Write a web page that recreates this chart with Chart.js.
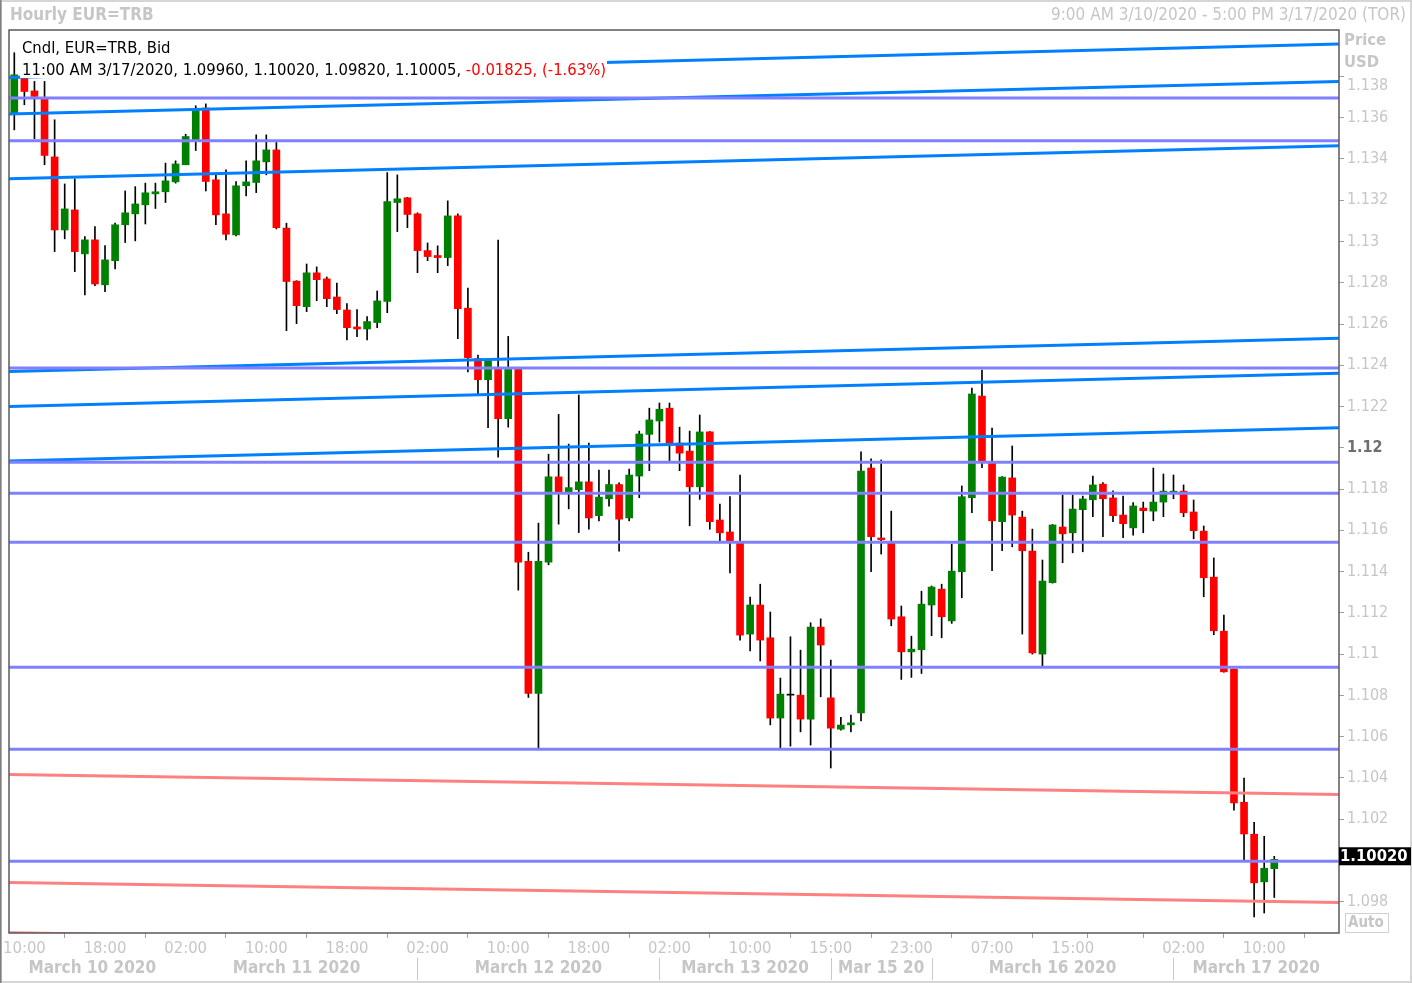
<!DOCTYPE html>
<html>
<head>
<meta charset="utf-8">
<title>Hourly EUR=TRB</title>
<script src="https://cdn.jsdelivr.net/npm/chart.js@4.4.1/dist/chart.umd.min.js"></script>
<style>
  html, body { margin: 0; padding: 0; background: #fff; }
  #wrap { width: 1412px; height: 983px; }
</style>
</head>
<body>
<div id="wrap"><canvas id="chart" width="1412" height="983"></canvas></div>
<script>
// hourly candles, 9:00 AM 3/10/2020 .. 11:00 AM 3/17/2020 (one per hour, weekend skipped)
const opens = [
  1.13622, 1.13794, 1.13730, 1.13690, 1.13410, 1.13056, 1.13153, 1.12940, 1.13008, 1.12790,
  1.12907, 1.13081, 1.13134, 1.13178, 1.13231, 1.13241, 1.13289, 1.13372, 1.13493, 1.13647,
  1.13299, 1.13134, 1.13032, 1.13270, 1.13286, 1.13386, 1.13444, 1.13065, 1.12808, 1.12684,
  1.12848, 1.12819, 1.12731, 1.12668, 1.12586, 1.12576, 1.12607, 1.12709, 1.13189, 1.13212,
  1.13134, 1.12956, 1.12932, 1.12922, 1.13124, 1.12677, 1.12433, 1.12330, 1.12384, 1.12141,
  1.12384, 1.11450, 1.10810, 1.11446, 1.11859, 1.11786, 1.11797, 1.11835, 1.11671, 1.11753,
  1.11822, 1.11660, 1.11863, 1.12065, 1.12130, 1.12192, 1.12023, 1.11984, 1.11811, 1.12077,
  1.11650, 1.11592, 1.11537, 1.11097, 1.11238, 1.11079, 1.10690, 1.10801, 1.10801, 1.10685,
  1.11131, 1.10788, 1.10636, 1.10657, 1.10715, 1.11902, 1.11563, 1.11537, 1.11181, 1.11011,
  1.11021, 1.11238, 1.11315, 1.11161, 1.11399, 1.11758, 1.12251, 1.11926, 1.11642, 1.11854,
  1.11664, 1.11499, 1.11000, 1.11346, 1.11616, 1.11588, 1.11700, 1.11748, 1.11824, 1.11757,
  1.11674, 1.11612, 1.11708, 1.11693, 1.11737, 1.11782, 1.11790, 1.11689, 1.11596, 1.11373,
  1.11111, 1.10927, 1.10282, 1.10127, 1.09896, 1.09960
];
const highs = [
  1.13915, 1.13803, 1.13776, 1.13776, 1.13590, 1.13279, 1.13304, 1.13024, 1.13072, 1.12980,
  1.13089, 1.13245, 1.13266, 1.13283, 1.13283, 1.13380, 1.13391, 1.13520, 1.13658, 1.13667,
  1.13331, 1.13347, 1.13291, 1.13391, 1.13517, 1.13517, 1.13480, 1.13089, 1.12810, 1.12891,
  1.12877, 1.12828, 1.12799, 1.12699, 1.12670, 1.12636, 1.12760, 1.13334, 1.13323, 1.13214,
  1.13139, 1.12993, 1.12979, 1.13197, 1.13134, 1.12774, 1.12450, 1.12425, 1.13007, 1.12540,
  1.12386, 1.11494, 1.11635, 1.11969, 1.12162, 1.12018, 1.12256, 1.12023, 1.11892, 1.11892,
  1.11830, 1.11897, 1.12081, 1.12192, 1.12217, 1.12217, 1.12100, 1.12081, 1.12159, 1.12079,
  1.11727, 1.11763, 1.11868, 1.11276, 1.11339, 1.11204, 1.10884, 1.11084, 1.11019, 1.11152,
  1.11171, 1.10971, 1.10694, 1.10704, 1.11981, 1.11946, 1.11941, 1.11693, 1.11233, 1.11087,
  1.11305, 1.11330, 1.11339, 1.11533, 1.11815, 1.12289, 1.12377, 1.12096, 1.11860, 1.12009,
  1.11693, 1.11606, 1.11456, 1.11628, 1.11771, 1.11771, 1.11766, 1.11863, 1.11831, 1.11792,
  1.11766, 1.11734, 1.11737, 1.11902, 1.11873, 1.11868, 1.11820, 1.11747, 1.11621, 1.11466,
  1.11189, 1.10929, 1.10399, 1.10185, 1.10117, 1.10020
];
const lows = [
  1.13541, 1.13663, 1.13498, 1.13372, 1.12951, 1.13013, 1.12854, 1.12741, 1.12786, 1.12757,
  1.12867, 1.12995, 1.13003, 1.13085, 1.13160, 1.13189, 1.13283, 1.13372, 1.13441, 1.13245,
  1.13081, 1.13008, 1.13027, 1.13221, 1.13237, 1.13323, 1.13061, 1.12568, 1.12602, 1.12660,
  1.12713, 1.12684, 1.12650, 1.12523, 1.12539, 1.12523, 1.12582, 1.12655, 1.13048, 1.13067,
  1.12849, 1.12907, 1.12849, 1.12883, 1.12529, 1.12368, 1.12261, 1.12097, 1.11954, 1.12100,
  1.11310, 1.10790, 1.10544, 1.11433, 1.11630, 1.11704, 1.11589, 1.11605, 1.11646, 1.11717,
  1.11499, 1.11646, 1.11758, 1.11889, 1.12028, 1.11936, 1.11889, 1.11622, 1.11750, 1.11605,
  1.11549, 1.11394, 1.11068, 1.11016, 1.10967, 1.10657, 1.10543, 1.10554, 1.10623, 1.10559,
  1.10793, 1.10448, 1.10631, 1.10623, 1.10676, 1.11399, 1.11485, 1.11137, 1.10877, 1.10887,
  1.10906, 1.11089, 1.11079, 1.11149, 1.11273, 1.11685, 1.11904, 1.11404, 1.11501, 1.11520,
  1.11097, 1.11000, 1.10942, 1.11344, 1.11443, 1.11491, 1.11496, 1.11666, 1.11569, 1.11642,
  1.11564, 1.11577, 1.11588, 1.11646, 1.11666, 1.11753, 1.11666, 1.11559, 1.11278, 1.11094,
  1.10912, 1.10243, 1.10001, 1.09726, 1.09745, 1.09820
];
const closes = [
  1.13808, 1.13727, 1.13703, 1.13417, 1.13056, 1.13158, 1.12951, 1.13008, 1.12794, 1.12911,
  1.13081, 1.13139, 1.13182, 1.13236, 1.13241, 1.13294, 1.13376, 1.13509, 1.13638, 1.13291,
  1.13129, 1.13035, 1.13270, 1.13289, 1.13391, 1.13444, 1.13067, 1.12806, 1.12689, 1.12848,
  1.12815, 1.12723, 1.12670, 1.12582, 1.12576, 1.12612, 1.12712, 1.13194, 1.13207, 1.13131,
  1.12956, 1.12927, 1.12922, 1.13124, 1.12675, 1.12437, 1.12330, 1.12420, 1.12141, 1.12384,
  1.11446, 1.10810, 1.11450, 1.11859, 1.11786, 1.11807, 1.11835, 1.11660, 1.11761, 1.11822,
  1.11654, 1.11868, 1.12067, 1.12135, 1.12187, 1.12023, 1.11974, 1.11811, 1.12077, 1.11642,
  1.11588, 1.11545, 1.11092, 1.11238, 1.11068, 1.10690, 1.10806, 1.10801, 1.10685, 1.11131,
  1.11044, 1.10641, 1.10656, 1.10667, 1.11887, 1.11569, 1.11554, 1.11170, 1.11011, 1.11024,
  1.11242, 1.11325, 1.11181, 1.11402, 1.11763, 1.12261, 1.11933, 1.11646, 1.11858, 1.11674,
  1.11501, 1.11006, 1.11354, 1.11626, 1.11583, 1.11703, 1.11752, 1.11820, 1.11753, 1.11671,
  1.11632, 1.11718, 1.11695, 1.11737, 1.11790, 1.11790, 1.11685, 1.11598, 1.11370, 1.11113,
  1.10914, 1.10279, 1.10128, 1.09891, 1.09962, 1.10005
];

// drawing tools on the chart: trend lines (start / end price) and flat levels
const blueStart = [1.13795, 1.13618, 1.13304, 1.12370, 1.12200, 1.11936];
const blueEnd   = [1.13957, 1.13776, 1.13464, 1.12531, 1.12361, 1.12097];
const redStart  = [1.10417, 1.09893, 1.09649];
const redEnd    = [1.10320, 1.09796, 1.09552];
const levels    = [1.13695, 1.13488, 1.12387, 1.11930, 1.11780, 1.11542, 1.10936, 1.10539, 1.09996];
const lastPrice = 1.10020;

// axes
const yTickValues = [1.098, 1.100, 1.102, 1.104, 1.106, 1.108, 1.110, 1.112, 1.114, 1.116, 1.118,
                     1.120, 1.122, 1.124, 1.126, 1.128, 1.130, 1.132, 1.134, 1.136, 1.138];
const yTickLabels = ['1.098', '', '1.102', '1.104', '1.106', '1.108', '1.11', '1.112', '1.114', '1.116', '1.118',
                     '1.12', '1.122', '1.124', '1.126', '1.128', '1.13', '1.132', '1.134', '1.136', '1.138'];
const xTickIndex  = [1, 9, 17, 25, 33, 41, 49, 57, 65, 73, 81, 89, 97, 105, 108, 116, 124];
const xTickLabels = ['10:00', '18:00', '02:00', '10:00', '18:00', '02:00', '10:00', '18:00', '02:00',
                     '10:00', '15:00', '23:00', '07:00', '15:00', '', '02:00', '10:00'];
const dayStarts = [16, 40, 64, 81, 91, 115];
const dayNames  = ['March 10 2020', 'March 11 2020', 'March 12 2020', 'March 13 2020',
                   'Mar 15 20', 'March 16 2020', 'March 17 2020'];

const X_MIN = -0.526, X_MAX = 131.42;
const FONT = "'DejaVu Sans Condensed', 'DejaVu Sans', sans-serif";
const GREY = '#c6c6c6';

Chart.defaults.font.family = FONT;

const idx = opens.map((v, i) => i);
const bodyColors = idx.map(i => closes[i] > opens[i] ? '#008000' : (closes[i] < opens[i] ? '#ff0000' : '#000000'));

function trend(a, b, color, width) {
  return {
    type: 'line',
    data: [{ x: X_MIN, y: a }, { x: X_MAX, y: b }],
    borderColor: color,
    borderWidth: width,
    pointRadius: 0,
    tension: 0,
    clip: 0,
    order: 1
  };
}

const datasets = [
  {
    label: 'Wicks',
    data: idx.map(i => ({ x: i, y: [lows[i], highs[i]] })),
    backgroundColor: '#000000',
    barThickness: 1,
    grouped: false,
    order: 4
  },
  {
    label: 'Bodies',
    data: idx.map(i => ({ x: i, y: [opens[i], closes[i]] })),
    backgroundColor: bodyColors,
    barThickness: 7,
    minBarLength: 1,
    grouped: false,
    order: 3
  }
];
levels.forEach(v => datasets.push(trend(v, v, '#8080ff', 3)));
redStart.forEach((v, i) => datasets.push(trend(v, redEnd[i], '#ff8080', 3)));
blueStart.forEach((v, i) => datasets.push(trend(v, blueEnd[i], '#0080ff', 3)));

const decor = {
  id: 'decor',
  beforeDraw(chart) {
    const ctx = chart.ctx;
    ctx.save();
    ctx.fillStyle = '#ffffff';
    ctx.fillRect(0, 0, chart.width, chart.height);
    ctx.restore();
  },
  afterDatasetsDraw(chart) {
    // the legend sits on a white panel that hides the drawing tools under it
    const ctx = chart.ctx;
    ctx.save();
    ctx.fillStyle = '#ffffff';
    ctx.fillRect(20, 37, 156, 23);
    ctx.fillRect(20, 60, 587, 18);
    ctx.restore();
  },
  afterDraw(chart) {
    const ctx = chart.ctx;
    const a = chart.chartArea;
    const xs = chart.scales.x;
    const ys = chart.scales.y;
    ctx.save();

    // frame
    ctx.strokeStyle = '#d6d6d6';
    ctx.lineWidth = 2;
    ctx.strokeRect(1, 1, chart.width - 2, chart.height - 2);
    ctx.fillStyle = '#808080';
    ctx.fillRect(0, 0, 1.5, chart.height);
    ctx.strokeStyle = '#5a5a5a';
    ctx.lineWidth = 1.5;
    ctx.strokeRect(a.left, a.top, a.right - a.left, a.bottom - a.top);

    // header
    ctx.textBaseline = 'middle';
    ctx.fillStyle = GREY;
    ctx.font = 'bold 17px ' + FONT;
    ctx.textAlign = 'left';
    ctx.fillText('Hourly EUR=TRB', 10, 16);
    ctx.font = '17px ' + FONT;
    ctx.textAlign = 'right';
    ctx.fillText('9:00 AM 3/10/2020 - 5:00 PM 3/17/2020 (TOR)', 1406, 16);

    // legend
    ctx.textAlign = 'left';
    ctx.fillStyle = '#000000';
    ctx.font = '16.5px ' + FONT;
    ctx.fillText('Cndl, EUR=TRB, Bid', 22, 49);
    const head = '11:00 AM 3/17/2020, ' + [opens[125], highs[125], lows[125], closes[125]].map(v => v.toFixed(5)).join(', ') + ', ';
    ctx.fillText(head, 22, 71);
    const w = ctx.measureText(head).width;
    ctx.fillStyle = '#ff0000';
    ctx.fillText('-0.01825, (-1.63%)', 22 + w, 71);

    // price axis captions
    ctx.fillStyle = GREY;
    ctx.font = 'bold 16.5px ' + FONT;
    ctx.fillText('Price', 1344, 41);
    ctx.fillText('USD', 1344, 63);
    ctx.strokeStyle = '#d0d0d0';
    ctx.lineWidth = 1;
    ctx.strokeRect(1345.5, 913.5, 43, 19);
    ctx.font = 'bold 15px ' + FONT;
    ctx.fillText('Auto', 1348, 923);

    // last price box
    const py = ys.getPixelForValue(lastPrice);
    ctx.fillStyle = '#000000';
    ctx.fillRect(a.right, py - 9, 72, 18);
    ctx.fillStyle = '#ffffff';
    ctx.font = 'bold 16.5px ' + FONT;
    ctx.fillText(lastPrice.toFixed(5), a.right + 1, py + 0.5);

    // date row
    ctx.strokeStyle = '#c8c8c8';
    ctx.lineWidth = 1;
    dayStarts.forEach((d, i) => {
      if (i === 0) return;
      const x = Math.round(xs.getPixelForValue(d)) + 0.5;
      ctx.beginPath();
      ctx.moveTo(x, 958);
      ctx.lineTo(x, 980);
      ctx.stroke();
    });
    const bounds = [X_MIN].concat(dayStarts, [X_MAX]);
    ctx.fillStyle = GREY;
    ctx.font = 'bold 17px ' + FONT;
    ctx.textAlign = 'center';
    dayNames.forEach((name, i) => {
      const x = xs.getPixelForValue((bounds[i] + bounds[i + 1]) / 2);
      ctx.fillText(name, x, 969);
    });
    ctx.restore();
  }
};

new Chart(document.getElementById('chart'), {
  type: 'bar',
  data: { datasets: datasets },
  options: {
    responsive: false,
    animation: false,
    devicePixelRatio: 1,
    layout: { padding: { top: 30, left: 9, right: 0, bottom: 0 } },
    plugins: { legend: { display: false }, tooltip: { enabled: false } },
    scales: {
      x: {
        type: 'linear',
        min: X_MIN,
        max: X_MAX,
        offset: false,
        afterBuildTicks: (scale) => { scale.ticks = xTickIndex.map(v => ({ value: v })); },
        afterFit: (scale) => { scale.height = 50; scale.paddingLeft = 0; scale.paddingRight = 0; },
        grid: { display: true, drawOnChartArea: false, drawTicks: true, tickLength: 5, color: '#a0a0a0' },
        border: { display: false },
        ticks: {
          autoSkip: false,
          maxRotation: 0,
          minRotation: 0,
          padding: 1,
          color: GREY,
          font: { size: 16.5, family: FONT },
          callback: (v, i) => xTickLabels[i]
        }
      },
      y: {
        type: 'linear',
        position: 'right',
        min: 1.096481,
        max: 1.140252,
        afterBuildTicks: (scale) => { scale.ticks = yTickValues.map(v => ({ value: v })); },
        afterFit: (scale) => { scale.width = 73; scale.paddingTop = 0; scale.paddingBottom = 0; },
        grid: { display: true, drawOnChartArea: false, drawTicks: true, tickLength: 5, color: '#a0a0a0' },
        border: { display: false },
        ticks: {
          autoSkip: false,
          padding: 3,
          color: (c) => (c.tick && Math.abs(c.tick.value - 1.12) < 1e-6) ? '#6e6e6e' : GREY,
          font: (c) => ({ size: 16, family: FONT,
            weight: (c.tick && Math.abs(c.tick.value - 1.12) < 1e-6) ? 'bold' : 'normal' }),
          callback: (v, i) => i === yTickLabels.length - 1 ? ['', yTickLabels[i]] : yTickLabels[i]
        }
      }
    }
  },
  plugins: [decor]
});
</script>
</body>
</html>
